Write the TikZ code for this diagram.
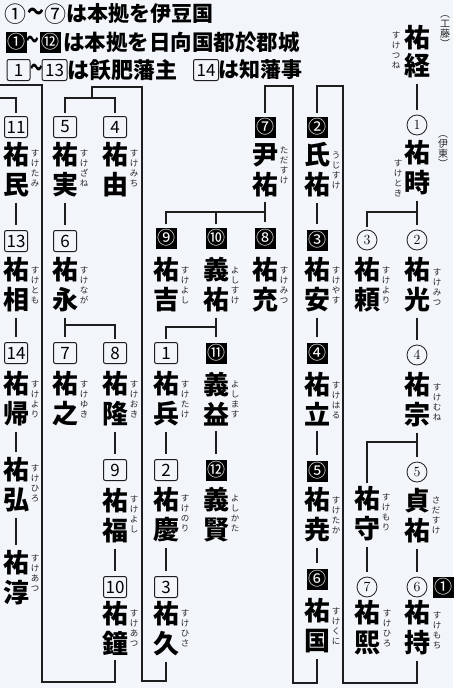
\documentclass[tikz,border=0pt]{standalone}
\usepackage{fontspec}
\usepackage{graphicx}
\newfontfamily\jp{Noto Sans CJK JP}
\definecolor{bgc}{RGB}{242,246,250}
\definecolor{lnc}{RGB}{30,30,30}
\tikzset{
 nm/.style={font=\jp\bfseries\fontsize{26}{30}\selectfont, align=center, inner sep=0pt, text=black},
 rb/.style={font=\jp\fontsize{8.5}{10}\selectfont, align=center, inner sep=0pt, text=black!85},
 ci/.style={circle, draw=lnc, line width=0.8pt, minimum size=20pt, inner sep=0pt, font=\fontsize{14}{14}\selectfont},
 bk/.style={fill=black, text=white, minimum size=21pt, inner sep=0pt, font=\jp\fontsize{18}{18}\selectfont},
 bx/.style={draw=lnc, line width=1pt, rounded corners=2pt, minimum width=23pt, minimum height=21pt, inner sep=1pt, font=\jp\fontsize{17}{17}\selectfont},
 lk/.style={draw=lnc, line width=1.4pt},
 sh/.style={shorten <=5pt, shorten >=5pt},
 lg/.style={font=\jp\bfseries\fontsize{21}{21}\selectfont, inner sep=0pt},
}
\begin{document}
\begin{tikzpicture}[x=1pt,y=-1pt]
\fill[bgc] (0,0) rectangle (453,688);
\useasboundingbox (0,0) rectangle (453,688);

% legend
\node[lg, font=\jp\fontsize{22}{22}\selectfont] (lgc1) at (16,14) {①};
\node[lg] (lgt1) at (35.5,14) {\scalebox{0.8}[1]{〜}};
\node[lg, font=\jp\fontsize{22}{22}\selectfont] (lgc7) at (55,14) {⑦};
\node[lg, anchor=west] (lg1) at (66,14) {は本拠を伊豆国};
\node[bk] (lgk1) at (16,42) {①};
\node[lg] (lgt2) at (32.5,42) {\scalebox{0.6}[1]{〜}};
\node[bk] (lgk12) at (50.5,42) {⑫};
\node[lg, anchor=west] (lg2) at (63,42) {\fontsize{21.5}{21.5}\selectfont は本拠を日向国都於郡城};
\node[bx] (lgb1) at (18.5,70) {1};
\node[lg] (lgt3) at (37,70) {\scalebox{0.6}[1]{〜}};
\node[bx, minimum width=25pt] (lgb13) at (54.5,70) {13};
\node[lg, anchor=west] (lg3) at (67,70) {\fontsize{22}{22}\selectfont は飫肥藩主};
\node[bx, minimum width=25pt] (lgb14) at (206,70) {14};
\node[lg, anchor=west] (lg4) at (218,70) {は知藩事};

% column I
\node[nm, font=\jp\bfseries\fontsize{26}{28}\selectfont] (suketsune) at (417,52) {祐\\経};
\node[rb] (r1) at (396,50) {す\\け\\つ\\ね};
\node[rb, font=\jp\fontsize{10}{10}\selectfont] (kudo) at (445,32) {︵\\工\\藤\\︶};
\node[ci] (i1) at (417,125) {1};
\node[nm] (suketoki) at (417,168) {祐\\時};
\node[rb] (r2) at (398,178) {す\\け\\と\\き};
\node[rb, font=\jp\fontsize{10}{10}\selectfont] (ito) at (443,152) {︵\\伊\\東\\︶};
\node[ci] (i2) at (417,240) {2};
\node[nm] (sukemitsu) at (417,285) {祐\\光};
\node[rb] (r3) at (437,287) {す\\け\\み\\つ};
\node[ci] (i4) at (417,355) {4};
\node[nm] (sukemune) at (417,400) {祐\\宗};
\node[rb] (r4) at (437,402) {す\\け\\む\\ね};
\node[ci] (i5) at (417,472) {5};
\node[nm] (sadasuke) at (417,516) {貞\\祐};
\node[rb] (r5) at (436,515) {さ\\だ\\す\\け};
\node[ci] (i6) at (417,587) {6};
\node[nm] (sukemochi) at (417,628) {祐\\持};
\node[rb] (r6) at (437,630) {す\\け\\も\\ち};
\node[bk] (k1) at (443,587) {①};

% column H
\node[ci] (h3) at (367,240) {3};
\node[nm] (sukeyori) at (367,285) {祐\\頼};
\node[rb] (r7) at (386,285) {す\\け\\よ\\り};
\node[nm] (sukemori) at (367,514) {祐\\守};
\node[rb] (r8) at (386,512) {す\\け\\も\\り};
\node[ci] (h7) at (367,587) {7};
\node[nm] (sukehiro) at (367,628) {祐\\熙};
\node[rb] (r9) at (387,628) {す\\け\\ひ\\ろ};

% column G
\node[bk] (g2) at (317,127) {②};
\node[nm] (ujisuke) at (317,170) {氏\\祐};
\node[rb] (r10) at (336,170) {う\\じ\\す\\け};
\node[bk] (g3) at (317,240) {③};
\node[nm] (sukeyasu) at (317,285) {祐\\安};
\node[rb] (r11) at (336,285) {す\\け\\や\\す};
\node[bk] (g4) at (317,353) {④};
\node[nm] (sukeharu) at (317,399) {祐\\立};
\node[rb] (r12) at (336,400) {す\\け\\は\\る};
\node[bk] (g5) at (317,471) {⑤};
\node[nm] (suketaka) at (317,515) {祐\\尭};
\node[rb] (r13) at (336,515) {す\\け\\た\\か};
\node[bk] (g6) at (317,579) {⑥};
\node[nm] (sukekuni) at (317,626) {祐\\国};
\node[rb] (r14) at (336,626) {す\\け\\く\\に};

% column F
\node[bk] (f7) at (265,127) {⑦};
\node[nm] (tadasuke) at (265,170) {尹\\祐};
\node[rb] (r15) at (284,165) {た\\だ\\す\\け};
\node[bk] (f8) at (265,238) {⑧};
\node[nm] (sukemitsu2) at (265,285) {祐\\充};
\node[rb] (r16) at (284,285) {す\\け\\み\\つ};

% column E
\node[bk] (e10) at (216,238) {⑩};
\node[nm] (yoshisuke) at (216,285) {義\\祐};
\node[rb] (r17) at (235,285) {よ\\し\\す\\け};
\node[bk] (e11) at (216,353) {⑪};
\node[nm] (yoshimasu) at (216,399) {義\\益};
\node[rb] (r18) at (235,399) {よ\\し\\ま\\す};
\node[bk] (e12) at (216,470) {⑫};
\node[nm] (yoshikata) at (216,515) {義\\賢};
\node[rb] (r19) at (235,513) {よ\\し\\か\\た};

% column D
\node[bk] (d9) at (166,238) {⑨};
\node[nm] (sukeyoshi) at (166,285) {祐\\吉};
\node[rb] (r20) at (185,285) {す\\け\\よ\\し};
\node[bx] (d1) at (166,353) {1};
\node[nm] (suketake) at (166,399) {祐\\兵};
\node[rb] (r21) at (185,399) {す\\け\\た\\け};
\node[bx] (d2) at (166,470) {2};
\node[nm] (sukenori) at (166,515) {祐\\慶};
\node[rb] (r22) at (185,513) {す\\け\\の\\り};
\node[bx] (d3) at (166,587) {3};
\node[nm] (sukehisa) at (166,629) {祐\\久};
\node[rb] (r23) at (185,628) {す\\け\\ひ\\さ};

% column C
\node[bx] (c4) at (115,127) {4};
\node[nm] (sukemichi) at (115,170) {祐\\由};
\node[rb] (r24) at (134,168) {す\\け\\み\\ち};
\node[bx] (c8) at (115,353) {8};
\node[nm] (sukeoki) at (115,399) {祐\\隆};
\node[rb] (r25) at (134,399) {す\\け\\お\\き};
\node[bx] (c9) at (115,470) {9};
\node[nm] (sukeyoshi2) at (115,516) {祐\\福};
\node[rb] (r26) at (134,514) {す\\け\\よ\\し};
\node[bx] (c10) at (115,587) {10};
\node[nm] (sukeatsu) at (115,628) {祐\\鐘};
\node[rb] (r27) at (134,628) {す\\け\\あ\\つ};

% column B
\node[bx] (b5) at (65,127) {5};
\node[nm] (sukezane) at (65,170) {祐\\実};
\node[rb] (r28) at (84,168) {す\\け\\ざ\\ね};
\node[bx] (b6) at (65,241) {6};
\node[nm] (sukenaga) at (65,285) {祐\\永};
\node[rb] (r29) at (84,285) {す\\け\\な\\が};
\node[bx] (b7) at (65,353) {7};
\node[nm] (sukeyuki) at (65,399) {祐\\之};
\node[rb] (r30) at (84,399) {す\\け\\ゆ\\き};

% column A
\node[bx] (a11) at (16,127) {11};
\node[nm] (suketami) at (16,170) {祐\\民};
\node[rb] (r31) at (35,168) {す\\け\\た\\み};
\node[bx] (a13) at (16,241) {13};
\node[nm] (suketomo) at (16,285) {祐\\相};
\node[rb] (r32) at (35,285) {す\\け\\と\\も};
\node[bx] (a14) at (16,353) {14};
\node[nm] (sukeyori2) at (16,399) {祐\\帰};
\node[rb] (r33) at (35,399) {す\\け\\よ\\り};
\node[nm] (sukehiro2) at (16,485) {祐\\弘};
\node[rb] (r34) at (35,483) {す\\け\\ひ\\ろ};
\node[nm] (sukeatsu2) at (16,578) {祐\\淳};
\node[rb] (r35) at (35,573) {す\\け\\あ\\つ};

% junction coordinates
\coordinate (j1) at (417,212);
\coordinate (j2) at (417,442);
\coordinate (j3) at (265,212);
\coordinate (j4) at (216,327);
\coordinate (j5) at (65,325);
\coordinate (j6) at (92,98);
\coordinate (L1a) at (343,683);
\coordinate (L1b) at (343,86);
\coordinate (L2a) at (293,683);
\coordinate (L2b) at (293,86);
\coordinate (L3a) at (142,681);
\coordinate (L3b) at (142,87);
\coordinate (L4a) at (42,682);
\coordinate (L4b) at (42,85);
\coordinate (E1) at (0,85);
\coordinate (E2) at (0,98);

% straight links
\foreach \a/\b in {suketsune/i1, suketoki/i2, sukemitsu/i4, sukemune/i5, sadasuke/i6, sukemori/h7,
  ujisuke/g3, sukeyasu/g4, sukeharu/g5, suketaka/g6, tadasuke/f8, yoshisuke/e11, yoshimasu/e12,
  suketake/d2, sukenori/d3, sukezane/b6, sukenaga/b7, sukeoki/c9, sukeyoshi2/c10,
  suketami/a13, suketomo/a14, sukeyori2/sukehiro2, sukehiro2/sukeatsu2}
  \draw[lk, sh] (\a.south) -- (\b.north);

% branches
\draw[lk, shorten <=3pt] (h3.north) |- (j1);
\draw[lk, shorten <=3pt] (sukemori.north) |- (j2);
\draw[lk, shorten <=3pt] (d9.north) |- (j3);
\draw[lk, shorten <=3pt] (e10.north) -- (e10.north |- j3);
\draw[lk, shorten <=3pt] (d1.north) |- (j4);
\draw[lk, shorten <=3pt] (c8.north) |- (j5);
\draw[lk, shorten <=3pt, shorten >=3pt] (b5.north) |- (j6) -| (c4.north);

% long loops
\draw[lk, shorten <=5pt, shorten >=3pt] (sukemochi.south) |- (L1a) -- (L1b) -| (g2.north);
\draw[lk, shorten <=5pt, shorten >=3pt] (sukekuni.south) |- (L2a) -- (L2b) -| (f7.north);
\draw[lk, shorten <=5pt] (sukehisa.south) |- (L3a) -- (L3b) -| (j6);
\draw[lk, shorten <=5pt] (sukeatsu.south) |- (L4a) -- (L4b) -- (E1);
\draw[lk, shorten >=3pt] (E2) -| (a11.north);
\end{tikzpicture}
\end{document}
